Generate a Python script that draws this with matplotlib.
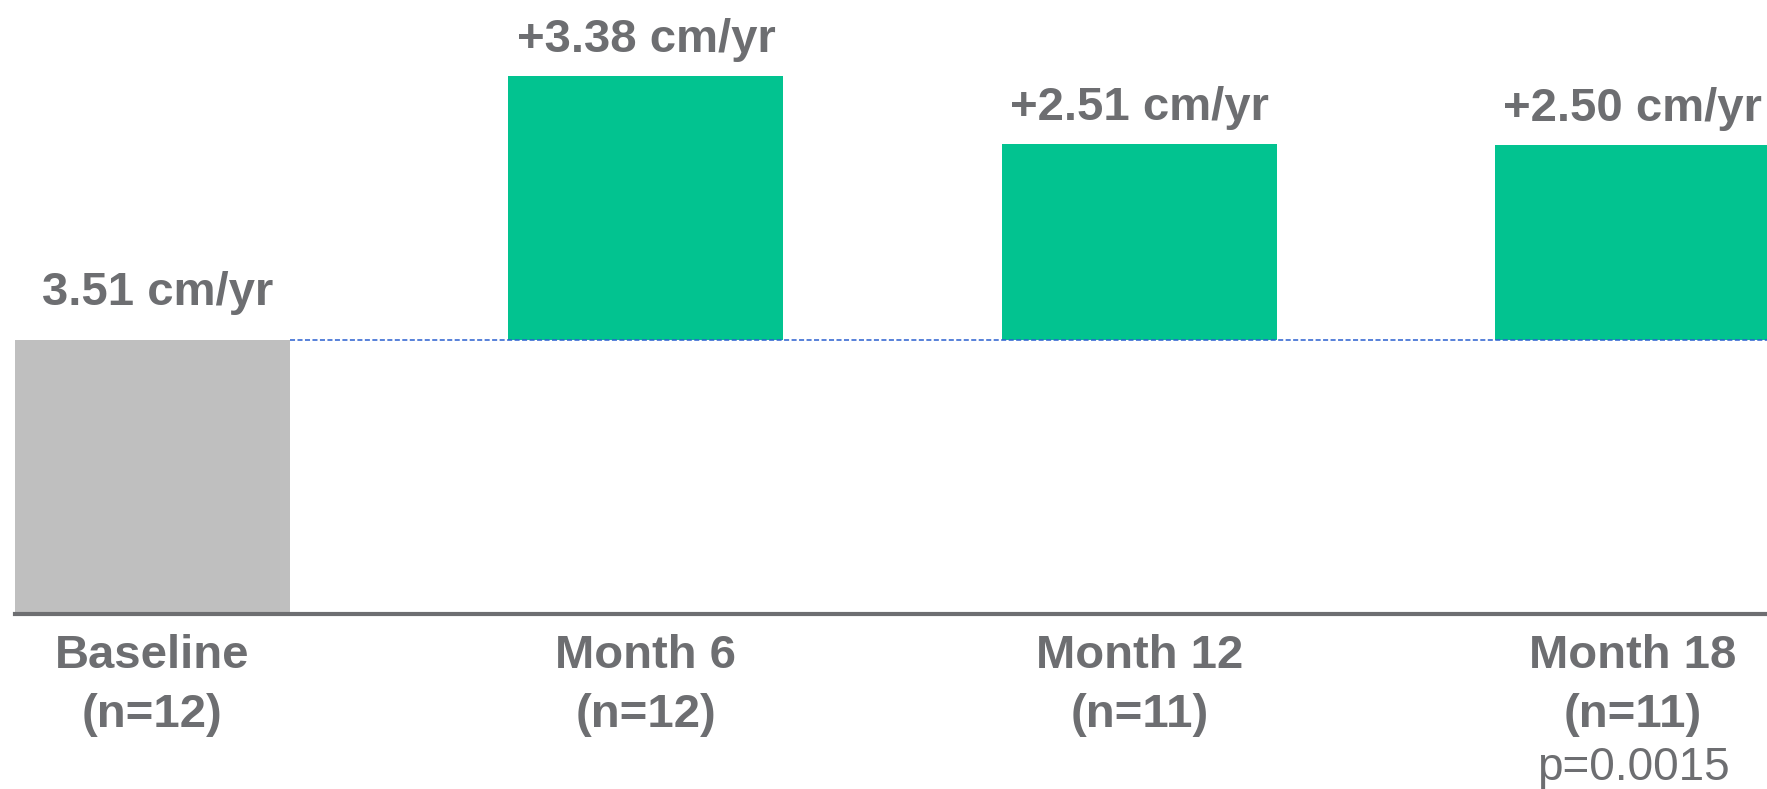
import matplotlib
matplotlib.use("Agg")
import matplotlib.pyplot as plt

plt.rcParams['font.family'] = ['Liberation Sans', 'DejaVu Sans']

categories = ["Baseline", "Month 6", "Month 12", "Month 18"]
n_labels = ["(n=12)", "(n=12)", "(n=11)", "(n=11)"]
baseline_value = 3.51
increments = [3.38, 2.51, 2.50]
value_labels = ["3.51 cm/yr", "+3.38 cm/yr", "+2.51 cm/yr", "+2.50 cm/yr"]
p_value_text = "p=0.0015"

TEXT = "#6d6e71"
GREEN = "#02c390"
GREY = "#bfbfbf"
BLUE = "#2a5fd0"

W, H = 1767, 789
fig = plt.figure(figsize=(W / 100, H / 100), dpi=100)
ax = fig.add_axes([15 / W, (H - 614) / H, 1 - 15 / W, 614 / H])

width = 0.557
x = list(range(len(categories)))
ax.set_xlim(-width / 2, (W - 152) / 493.6)
ax.set_ylim(0, 614 / (274 / 3.51))

# baseline bar
ax.bar(x[0], baseline_value, width=width, color=GREY, zorder=2)
# floating increments
ax.bar(x[1:], increments, bottom=baseline_value, width=width, color=GREEN, zorder=2)

# dashed reference line
ax.hlines(baseline_value, x[0] + width / 2, ax.get_xlim()[1], colors=BLUE,
          linestyles=(0, (3.3, 1.6)), linewidth=1.1, zorder=3)

for s in ["top", "right", "left"]:
    ax.spines[s].set_visible(False)
ax.spines["bottom"].set_color(TEXT)
ax.spines["bottom"].set_linewidth(3)
ax.set_xticks([])
ax.set_yticks([])

fs = 34
tops = [baseline_value] + [baseline_value + v for v in increments]
for i, (xi, top, lab) in enumerate(zip(x, tops, value_labels)):
    off = 34 if i == 0 else 26
    dx = 4 if i == 0 else 0
    ax.annotate(lab, (xi, top), xytext=(dx, off), textcoords="offset points",
                ha="center", va="center", fontsize=fs, fontweight="bold", color=TEXT)

trans = ax.get_xaxis_transform()
for xi, cat, nl in zip(x, categories, n_labels):
    ax.annotate(cat, (xi, 0), xycoords=trans, xytext=(0, -30), textcoords="offset points",
                ha="center", va="center", fontsize=fs, fontweight="bold", color=TEXT,
                annotation_clip=False)
    ax.annotate(nl, (xi, 0), xycoords=trans, xytext=(0, -72.5), textcoords="offset points",
                ha="center", va="center", fontsize=fs, fontweight="bold", color=TEXT,
                annotation_clip=False)
ax.annotate(p_value_text, (x[3], 0), xycoords=trans, xytext=(0, -111),
            textcoords="offset points", ha="center", va="center", fontsize=fs - 1,
            color=TEXT, annotation_clip=False)

fig.savefig("out.png", dpi=100)
